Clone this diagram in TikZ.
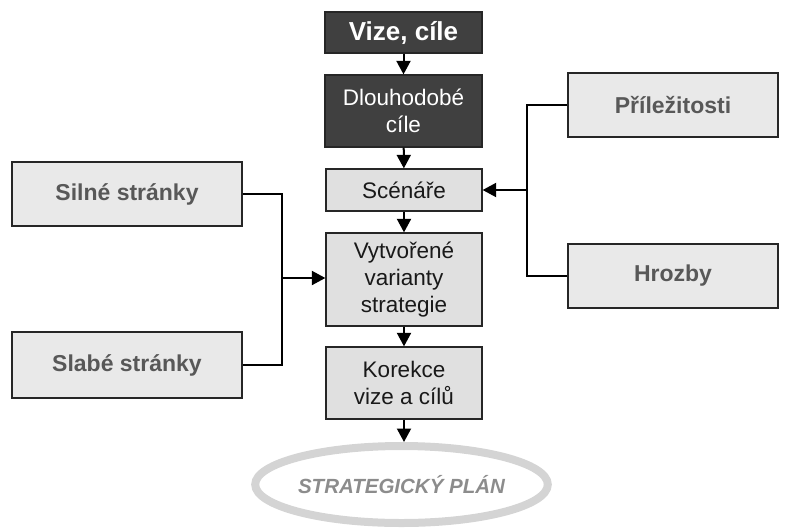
\documentclass[tikz,border=0pt]{standalone}
\usepackage{fontspec}
\setmainfont{Liberation Sans}
\usetikzlibrary{arrows.meta,shapes.geometric}
\definecolor{darkbox}{HTML}{404040}
\definecolor{lightbox}{HTML}{E0E0E0}
\definecolor{sidebox}{HTML}{E9E9E9}
\definecolor{sidetext}{HTML}{585858}
\definecolor{ringgray}{HTML}{D4D4D4}
\definecolor{plantext}{HTML}{8C8C8C}
\tikzset{
  darkstep/.style={draw=black!85, line width=1.3pt, fill=darkbox, text=white, inner sep=0pt, align=center,
    font=\fontsize{22.5}{27}\selectfont},
  lightstep/.style={draw=black!85, line width=1.3pt, fill=lightbox, text=black!90, inner sep=0pt, align=center,
    minimum width=156pt, font=\fontsize{22.5}{27}\selectfont},
  sidestep/.style={draw=black!85, line width=1.3pt, fill=sidebox, text=sidetext, inner sep=0pt, align=center,
    font=\fontsize{23}{27}\selectfont\bfseries},
  flow/.style={line width=2pt, -{Triangle[length=13.5pt,width=14pt]}},
  link/.style={line width=2pt}
}
\begin{document}
\begin{tikzpicture}[x=1pt,y=-1pt]
\useasboundingbox (0,0) rectangle (787,528);
\node[darkstep, minimum width=157pt, minimum height=41pt, font=\fontsize{26}{30}\selectfont\bfseries] (vize) at (403.5,32.5) {Vize, cíle};
\node[darkstep, minimum width=157pt, minimum height=72pt] (dlouho) at (403.5,111) {Dlouhodobé\\cíle};
\node[lightstep, minimum height=42pt] (scen) at (404,190) {Scénáře};
\node[lightstep, minimum height=93pt] (vytv) at (404,279.5) {Vytvořené\\varianty\\strategie};
\node[lightstep, minimum height=72pt] (kor) at (404,383) {Korekce\\vize a cílů};
\node[ellipse, draw=ringgray, line width=8pt, minimum width=269pt, minimum height=77pt, inner sep=0pt,
  text=plantext, font=\fontsize{20.5}{24}\selectfont\bfseries\itshape] (plan) at (401.5,484.5) {STRATEGICKÝ PLÁN};
\node[sidestep, minimum width=230pt, minimum height=64pt] (silne) at (127,194) {Silné stránky};
\node[sidestep, minimum width=230pt, minimum height=66pt] (slabe) at (127,365) {Slabé stránky};
\node[sidestep, minimum width=210pt, minimum height=64pt] (pril) at (673,105) {Příležitosti};
\node[sidestep, minimum width=210pt, minimum height=64pt] (hroz) at (673,276) {Hrozby};
\coordinate (jl) at (282,278);
\coordinate (jr) at (527,190);
\draw[flow] (vize) -- (dlouho);
\draw[flow] (dlouho) -- (scen);
\draw[flow] (scen) -- (vytv);
\draw[flow] (vytv) -- (kor);
\draw[flow] (kor.south) -- (kor.south |- plan.north);
\draw[link] (silne.east) -| (jl);
\draw[link] (slabe.east) -| (jl);
\draw[flow] (jl) -- (jl -| vytv.west);
\draw[link] (pril.west) -| (jr);
\draw[link] (hroz.west) -| (jr);
\draw[flow] (jr) -- (jr -| scen.east);
\end{tikzpicture}
\end{document}
